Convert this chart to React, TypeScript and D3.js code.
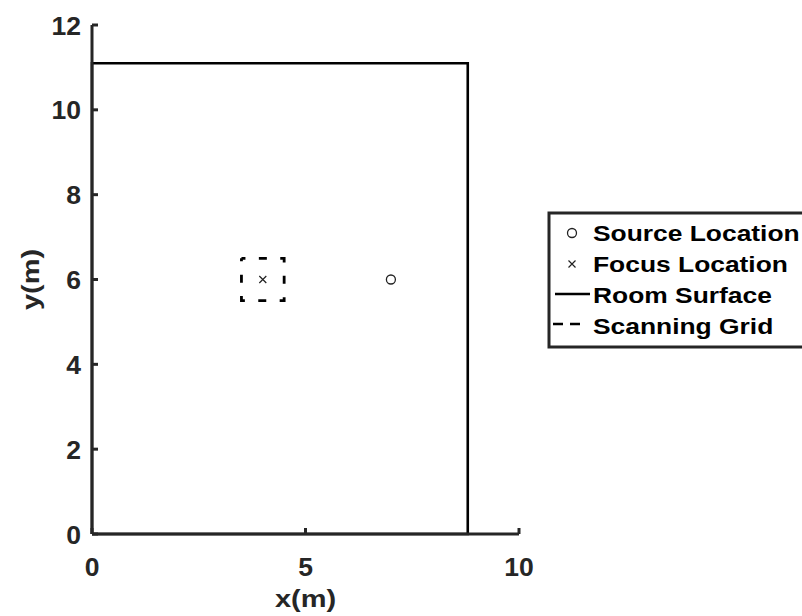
import React from "react";
import * as d3 from "d3";

const xTicks = [0, 5, 10];
const yTicks = [0, 2, 4, 6, 8, 10, 12];
const roomX = [0, 8.8, 8.8, 0, 0];
const roomY = [0, 0, 11.1, 11.1, 0];
const gridX = [3.5, 4.5, 4.5, 3.5, 3.5];
const gridY = [6.5, 6.5, 5.5, 5.5, 6.5];
const sourceX = [7];
const sourceY = [6];
const focusX = [4];
const focusY = [6];
const legendLabels = ["Source Location", "Focus Location", "Room Surface", "Scanning Grid"];

export default function App() {
  const W = 802, H = 616;
  const x = d3.scaleLinear().domain([0, 10]).range([92, 519]);
  const y = d3.scaleLinear().domain([0, 12]).range([534, 25]);
  const line = d3.line<[number, number]>().x(d => x(d[0])).y(d => y(d[1]));
  const room = line(roomX.map((v, i) => [v, roomY[i]] as [number, number]));
  const grid = line(gridX.map((v, i) => [v, gridY[i]] as [number, number]));
  const font = "'Liberation Sans', Arial, sans-serif";
  const tickColor = "#262626";
  const legendRowY = [233, 264, 295, 326];
  return (
    <svg width={W} height={H} style={{ position: "absolute", left: 0, top: 0, background: "#fff" }}>
      <rect width={W} height={H} fill="#fff" />
      {/* room */}
      <path d={room || ""} fill="none" stroke="#000" strokeWidth={2.6} />
      {/* scanning grid */}
      <path d={grid || ""} fill="none" stroke="#000" strokeWidth={2.8} strokeDasharray="8,13.4" strokeDashoffset={4} />
      {/* axes */}
      <line x1={x(0)} x2={x(10)} y1={y(0)} y2={y(0)} stroke={tickColor} strokeWidth={3} />
      <line x1={x(0)} x2={x(0)} y1={y(0)} y2={y(12)} stroke={tickColor} strokeWidth={3} />
      {xTicks.map(t => (
        <g key={"xt" + t}>
          <line x1={x(t)} x2={x(t)} y1={y(0)} y2={y(0) - 6} stroke={tickColor} strokeWidth={3} />
          <text x={x(t)} y={576} textAnchor="middle" fontFamily={font} fontWeight="bold" fontSize={26.5} fill={tickColor}>{t}</text>
        </g>
      ))}
      {yTicks.map(t => (
        <g key={"yt" + t}>
          <line x1={x(0)} x2={x(0) + 6} y1={y(t)} y2={y(t)} stroke={tickColor} strokeWidth={3} />
          <text x={81} y={y(t) + 9.5} textAnchor="end" fontFamily={font} fontWeight="bold" fontSize={26.5} fill={tickColor}>{t}</text>
        </g>
      ))}
      <text transform={`translate(${x(5)},${607}) scale(1.26,1)`} textAnchor="middle" fontFamily={font} fontWeight="bold" fontSize={23} fill={tickColor}>x(m)</text>
      <text transform={`translate(${39},${y(6)}) rotate(-90) scale(1.26,1)`} textAnchor="middle" fontFamily={font} fontWeight="bold" fontSize={23} fill={tickColor}>y(m)</text>
      {/* markers */}
      {sourceX.map((v, i) => (
        <circle key={"s" + i} cx={x(v)} cy={y(sourceY[i])} r={4.5} fill="none" stroke="#222" strokeWidth={1.3} />
      ))}
      {focusX.map((v, i) => (
        <path key={"f" + i} d={`M${x(v) - 3.5},${y(focusY[i]) - 3.5}L${x(v) + 3.5},${y(focusY[i]) + 3.5}M${x(v) - 3.5},${y(focusY[i]) + 3.5}L${x(v) + 3.5},${y(focusY[i]) - 3.5}`} stroke="#222" strokeWidth={1.2} />
      ))}
      {/* legend */}
      <rect x={549} y={213} width={260} height={134} fill="#fff" stroke="#262626" strokeWidth={3} />
      <circle cx={572} cy={legendRowY[0]} r={4.5} fill="none" stroke="#222" strokeWidth={1.3} />
      <path d={`M568.5,${legendRowY[1] - 3.5}L575.5,${legendRowY[1] + 3.5}M568.5,${legendRowY[1] + 3.5}L575.5,${legendRowY[1] - 3.5}`} stroke="#222" strokeWidth={1.2} />
      <line x1={555} x2={590} y1={legendRowY[2] - 1} y2={legendRowY[2] - 1} stroke="#000" strokeWidth={2.4} />
      <line x1={553} x2={582} y1={legendRowY[3] - 2} y2={legendRowY[3] - 2} stroke="#000" strokeWidth={2.6} strokeDasharray="10,7" />
      {legendLabels.map((l, i) => (
        <text key={l} transform={`translate(593,${legendRowY[i] + 8}) scale(1.2,1)`} fontFamily={font} fontWeight="bold" fontSize={22} fill="#000">{l}</text>
      ))}
    </svg>
  );
}
